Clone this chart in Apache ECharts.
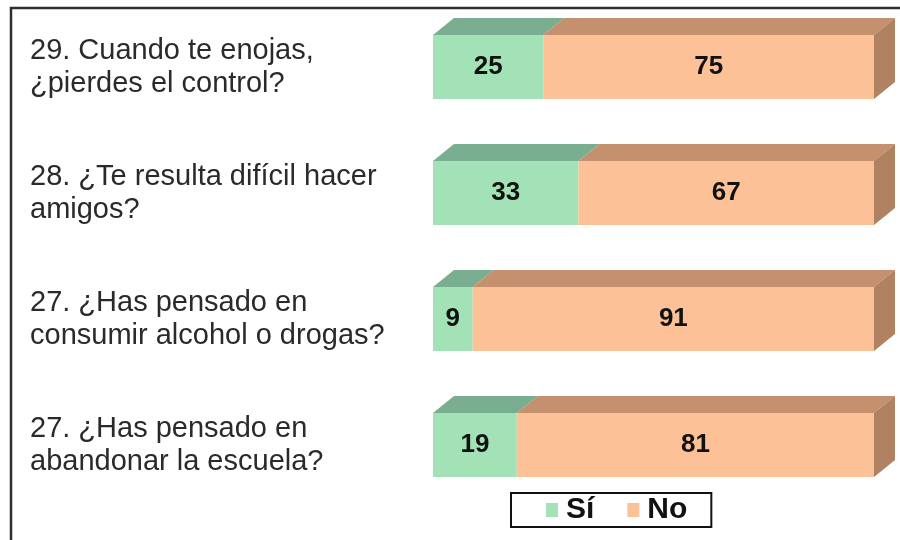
<!DOCTYPE html>
<html>
<head>
<meta charset="utf-8">
<script src="https://cdn.jsdelivr.net/npm/echarts@6/dist/echarts.min.js"></script>
<style>html,body{margin:0;padding:0;background:#fff}#c{width:900px;height:540px}</style>
</head>
<body>
<div id="c"></div>
<script>
var categories = [
  '29. Cuando te enojas,\n¿pierdes el control?',
  '28. ¿Te resulta difícil hacer\namigos?',
  '27. ¿Has pensado en\nconsumir alcohol o drogas?',
  '27. ¿Has pensado en\nabandonar la escuela?'
];
var siValues = [25, 33, 9, 19];
var noValues = [75, 67, 91, 81];
var seriesNames = ['Sí', 'No'];

var FRONT = ['#a2e2b6', '#fcc196'];
var TOP = ['#7aae90', '#c4906e'];
var SIDE = '#b08262';
var DX = 21, DY = -17;

function buildData(vals, starts) {
  return vals.map(function (v, i) { return [v, i, starts ? starts[i] : 0]; });
}

function makeRender(idx, isLast) {
  return function (params, api) {
    var v = api.value(0), cat = api.value(1), s = api.value(2);
    var p0 = api.coord([s, cat]);
    var p1 = api.coord([s + v, cat]);
    var band = api.size([0, 1])[1];
    var h = band * 0.508;
    var x0 = p0[0], x1 = p1[0], yt = p0[1] - h / 2, yb = p0[1] + h / 2;
    var children = [
      { type: 'polygon', shape: { points: [[x0, yt], [x0 + DX, yt + DY], [x1 + DX, yt + DY], [x1, yt]] },
        style: { fill: TOP[idx] } },
      { type: 'rect', shape: { x: x0, y: yt, width: x1 - x0, height: h }, style: { fill: FRONT[idx] } }
    ];
    if (isLast) {
      children.push({ type: 'polygon', shape: { points: [[x1, yt], [x1 + DX, yt + DY], [x1 + DX, yb + DY], [x1, yb]] },
        style: { fill: SIDE } });
    }
    children.push({ type: 'text', style: { text: String(v), x: (x0 + x1) / 2, y: p0[1],
      align: 'center', verticalAlign: 'middle', fill: '#111',
      font: 'bold 26px "Liberation Sans", Arial, sans-serif' } });
    return { type: 'group', children: children };
  };
}

var chart = echarts.init(document.getElementById('c'), null, { renderer: 'canvas' });
chart.setOption({
  animation: false,
  backgroundColor: '#fff',
  graphic: [{
    type: 'rect', z: -10, silent: true,
    shape: { x: 11, y: 8, width: 1000, height: 1000 },
    style: { fill: 'none', stroke: '#2e2e2e', lineWidth: 2.5 }
  }],
  grid: { left: 433, right: 26, top: 4, bottom: 32 },
  xAxis: { type: 'value', min: 0, max: 100, show: false },
  yAxis: {
    type: 'category', data: categories, inverse: true,
    axisLine: { show: false }, axisTick: { show: false },
    axisLabel: {
      align: 'left', margin: 403, color: '#2a2a2a',
      fontFamily: '"Liberation Sans", Arial, sans-serif', fontSize: 29, lineHeight: 33,
      padding: [0, 0, 16, 0]
    }
  },
  legend: {
    data: seriesNames, left: 511, top: 493,
    orient: 'horizontal', icon: 'rect', itemWidth: 12, itemHeight: 14, itemGap: 33,
    borderColor: '#111', borderWidth: 2, borderRadius: 0,
    padding: [2, 24, 2, 35],
    textStyle: { fontFamily: '"Liberation Sans", Arial, sans-serif', fontSize: 30, fontWeight: 'bold', color: '#111',
      padding: [0, 0, 0, 3] }
  },
  series: [
    { type: 'custom', name: seriesNames[0], itemStyle: { color: FRONT[0] },
      renderItem: makeRender(0, false), encode: { x: [0, 2], y: 1 },
      data: buildData(siValues, null) },
    { type: 'custom', name: seriesNames[1], itemStyle: { color: FRONT[1] },
      renderItem: makeRender(1, true), encode: { x: [0, 2], y: 1 },
      data: buildData(noValues, siValues) }
  ]
});
</script>
</body>
</html>
